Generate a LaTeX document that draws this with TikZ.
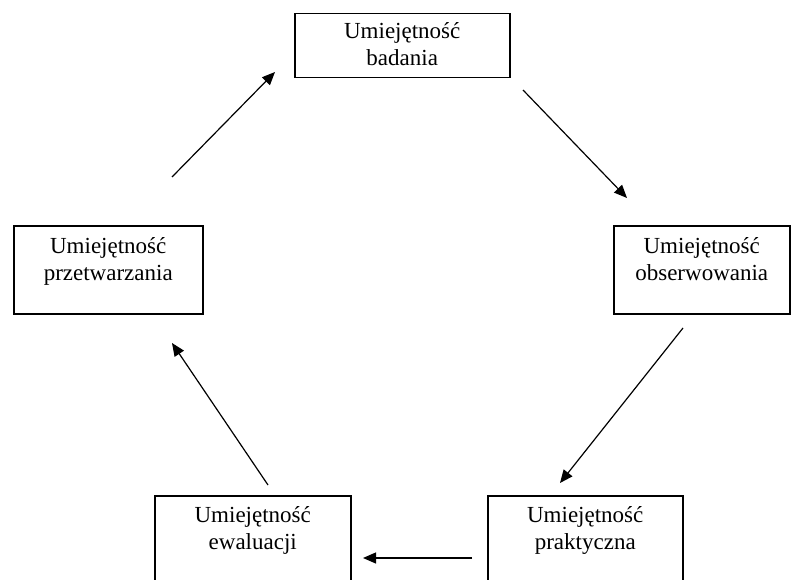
\documentclass[tikz,border=0pt]{standalone}
\usepackage{fontspec}
\setmainfont{Liberation Serif}
\usetikzlibrary{arrows.meta}
\begin{document}
\begin{tikzpicture}[x=1pt,y=-1pt,
    skill/.style={draw,line width=1.5pt,inner sep=0pt,anchor=north west,align=center,
      font=\fontsize{23}{27}\selectfont},
    arr/.style={line width=1.2pt,-{Triangle[length=13pt,width=11pt]}}]
        \useasboundingbox (0,0) rectangle (792,580);
        % the five skills
        \node[skill,text width=215pt,text height=25pt,text depth=39pt] (badania) at (294,13) {Umiejętność\\badania};
        \node[skill,text width=176pt,text height=28pt,text depth=60pt] (obserwowania) at (613,225) {Umiejętność\\obserwowania};
        \node[skill,text width=189pt,text height=28pt,text depth=60pt] (przetwarzania) at (13,225) {Umiejętność\\przetwarzania};
        \node[skill,text width=196pt,text height=27pt,text depth=95pt] (ewaluacji) at (154,495) {Umiejętność\\ewaluacji};
        \node[skill,text width=195pt,text height=27pt,text depth=95pt] (praktyczna) at (487,495) {Umiejętność\\praktyczna};
        % arrow ends
        \coordinate (p1) at (172,177); \coordinate (b1) at (275,72);
        \coordinate (b2) at (523,90);  \coordinate (o2) at (627,198);
        \coordinate (o3) at (683,328); \coordinate (k3) at (560,483);
        \coordinate (k4) at (472,558); \coordinate (e4) at (363,558);
        \coordinate (e5) at (268,485); \coordinate (p5) at (172,343);
        \draw[arr] (p1) -- (b1);
        \draw[arr] (b2) -- (o2);
        \draw[arr] (o3) -- (k3);
        \draw[arr] (k4) -- (e4);
        \draw[arr] (e5) -- (p5);
\end{tikzpicture}
\end{document}
